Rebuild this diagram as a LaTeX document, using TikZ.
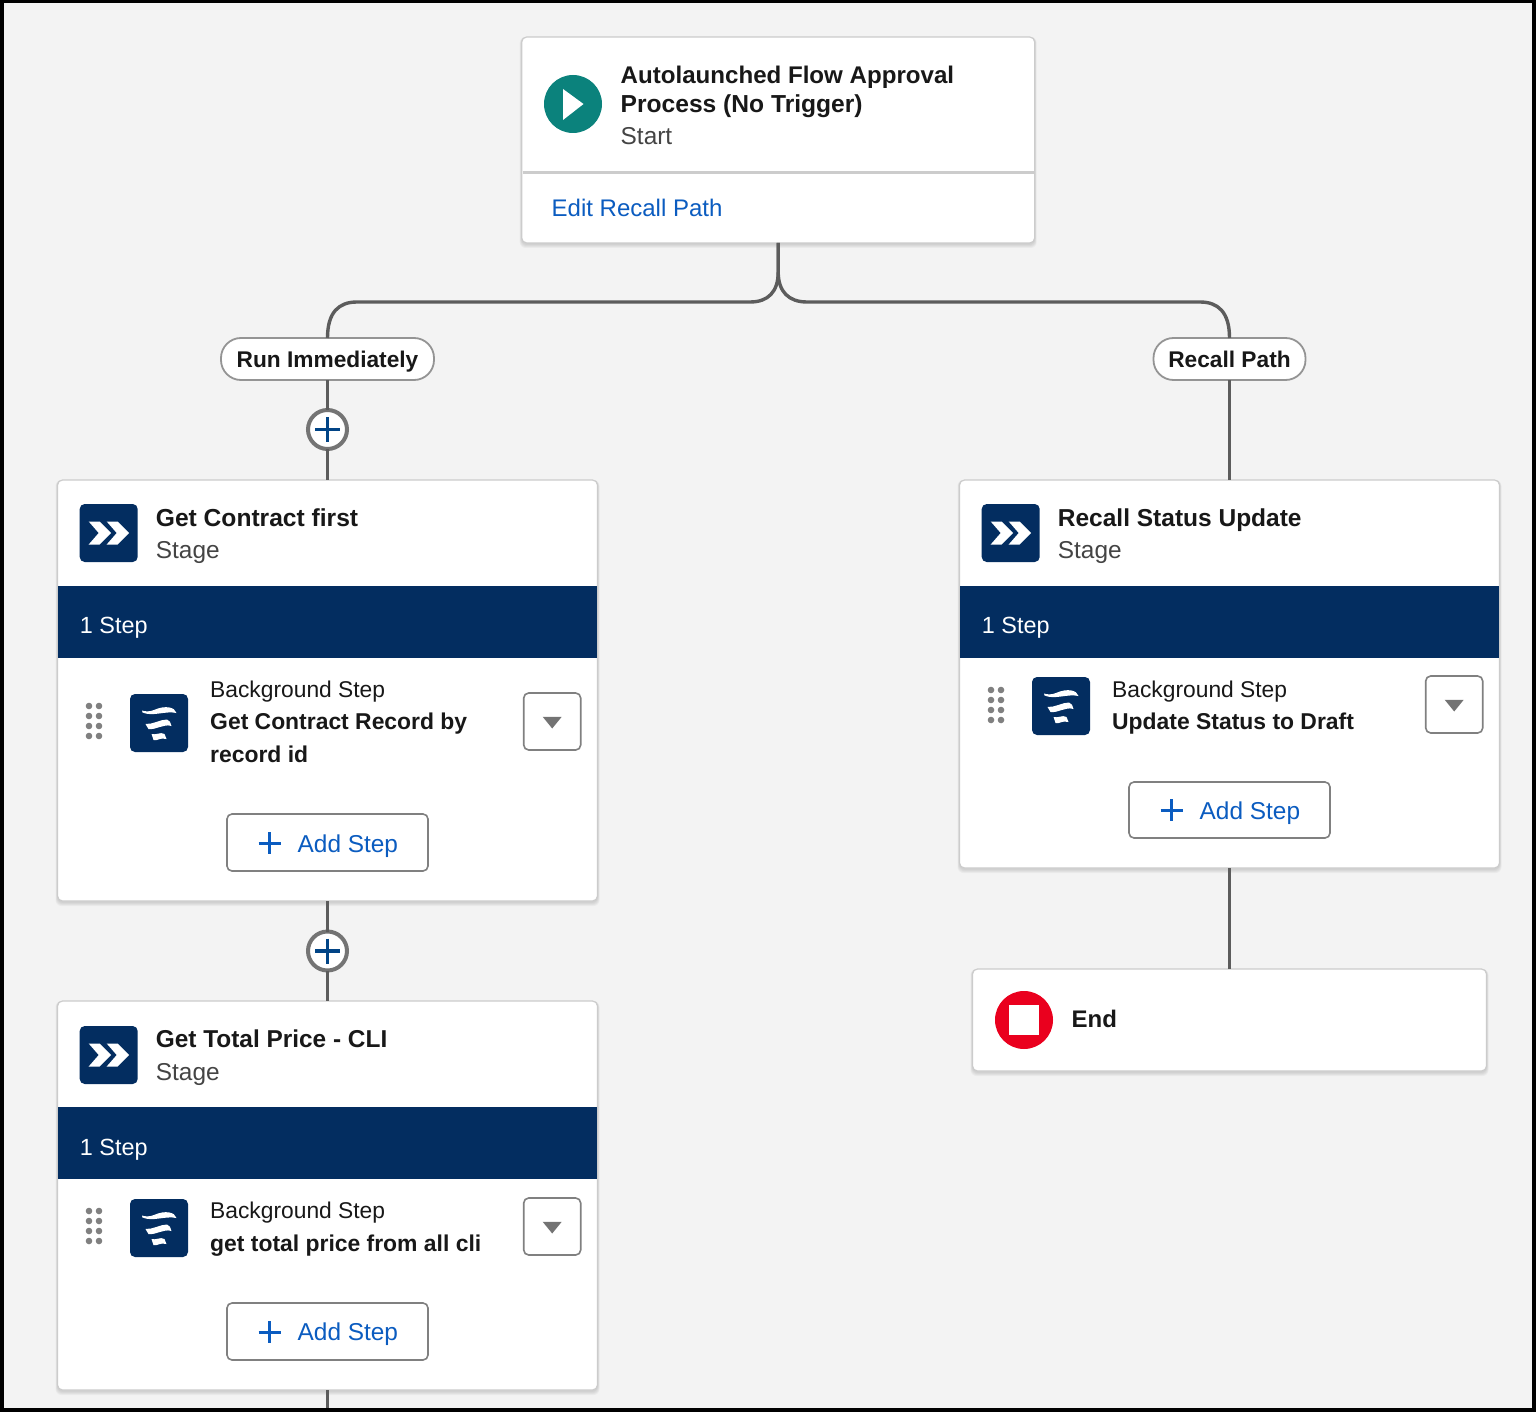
\documentclass[tikz,border=0pt]{standalone}
\usepackage{fontspec}
\setmainfont{Liberation Sans}
\usetikzlibrary{backgrounds}

\definecolor{navy}{HTML}{032D60}
\definecolor{linkblue}{HTML}{0B5CC0}
\definecolor{plusblue}{HTML}{014486}
\definecolor{teal}{HTML}{0B827C}
\definecolor{stopred}{HTML}{EA001E}
\definecolor{canvas}{HTML}{F3F3F3}
\definecolor{inkdark}{HTML}{181818}
\definecolor{inkgray}{HTML}{444444}
\definecolor{wire}{HTML}{5C5C5C}

\tikzset{
	card/.style={draw=black!20, line width=1.2pt, fill=white, rounded corners=5pt, anchor=north west, inner sep=0pt, outer sep=0pt},
	band/.style={fill=navy, anchor=north west, inner sep=0pt, outer sep=0pt, minimum width=539.5pt, minimum height=72pt},
	pill/.style={draw=black!42, line width=1.8pt, fill=white, rounded corners=20pt, inner sep=0pt, outer sep=0pt, minimum height=42pt, text height=18pt, text depth=2pt, text=inkdark, font=\fontsize{22.7}{24}\selectfont\bfseries},
	addnode/.style={circle, draw=wire!85, line width=4pt, fill=white, minimum size=39pt, inner sep=0pt, outer sep=0pt},
	btn/.style={draw=black!50, line width=1.6pt, fill=white, rounded corners=5pt, anchor=north west, inner sep=0pt, outer sep=0pt},
	title/.style={anchor=base west, inner sep=0pt, text=inkdark, font=\fontsize{24.6}{25}\selectfont\bfseries},
	subtitle/.style={anchor=base west, inner sep=0pt, text=inkgray, font=\fontsize{24.4}{25}\selectfont},
	steptitle/.style={anchor=base west, inner sep=0pt, text=inkdark, font=\fontsize{22.9}{24}\selectfont\bfseries},
	steplabel/.style={anchor=base west, inner sep=0pt, text=inkdark, font=\fontsize{22.8}{24}\selectfont},
	linktext/.style={anchor=base west, inner sep=0pt, text=linkblue, font=\fontsize{24}{25}\selectfont},
	addtext/.style={anchor=base west, inner sep=0pt, text=linkblue, font=\fontsize{24.4}{25}\selectfont},
	bandtext/.style={anchor=base west, inner sep=0pt, text=white, font=\fontsize{23.4}{25}\selectfont},
	link/.style={draw=wire, line width=3.4pt},
	stageicon/.pic={
		\fill[navy, rounded corners=5pt] (-29,-29) rectangle (29,29);
		\foreach \s in {-18,0}
			\fill[white] (\s-2,-11.5) -- (\s+9,-11.5) -- (\s+20.5,0) -- (\s+9,11.5) -- (\s-2,11.5) -- (\s+8,0) -- cycle;
	},
	stepicon/.pic={
		\fill[navy, rounded corners=5pt] (-29,-29) rectangle (29,29);
		\fill[white] (-16.5,-10.5) .. controls (-6,-6) and (6,-12.5) .. (17.5,-10) .. controls (16,-16) and (6,-18) .. (-5,-13) .. controls (-10,-11) and (-14,-11.5) .. (-17,-12.5) -- cycle;
		\fill[white] (-13.5,1) .. controls (-6,1.5) and (1,-3.5) .. (8,-3.5) .. controls (10.5,-3) and (12,0) .. (12.5,3) .. controls (4,0.5) and (-2,7) .. (-10.5,6) -- cycle;
		\fill[white] (-7.5,11) .. controls (-2.5,12.5) and (1,8.5) .. (5.5,11) -- (7.5,16) .. controls (1,14) and (-2,18.5) .. (-5.5,17) -- cycle;
	},
	dragdots/.pic={
		\foreach \dx in {-5,5}
			\foreach \dy in {-15,-5,5,15}
				\fill[black!50] (\dx,\dy) circle (3.3);
	},
	caret/.pic={
		\fill[black!55] (-9.5,-4.7) -- (9.5,-4.7) -- (0,7) -- cycle;
	},
	plusmark/.pic={
		\draw[linkblue, line width=3pt] (-11,0) -- (11,0) (0,-11) -- (0,11);
	},
	addplus/.pic={
		\draw[plusblue, line width=3.4pt] (-12.5,0) -- (12.5,0) (0,-12.5) -- (0,12.5);
	}
}

\begin{document}
\begin{tikzpicture}[x=1pt, y=-1pt]
	% Frame and canvas
	\begin{scope}[on background layer]
		\fill[black] (0,0) rectangle (1536,1412);
		\fill[canvas] (4,3) rectangle (1532,1408);
	\end{scope}
	\useasboundingbox (0,0) rectangle (1536,1412);

	% Cards
	\node[card, minimum width=513pt, minimum height=206pt] (start) at (521.7,37) {};
	\node[card, minimum width=540pt, minimum height=421pt] (contract) at (57.5,480) {};
	\node[card, minimum width=540pt, minimum height=389pt] (price) at (57.5,1001) {};
	\node[card, minimum width=540pt, minimum height=388pt] (recall) at (959.5,480) {};
	\node[card, minimum width=514pt, minimum height=102pt] (end) at (972.5,969) {};

	% Soft shadows under the cards
	\begin{scope}[on background layer]
		\foreach \c in {start,contract,price,recall,end}
			\foreach \g in {4,3,2,1}
				\fill[black, opacity=.035, rounded corners=6pt] ([shift={(-\g/2,0)}]\c.north west) rectangle ([shift={(\g/2,\g+1)}]\c.south east);
	\end{scope}

	% Path labels and add buttons
	\node[pill, minimum width=213pt] (run) at (327.5,359) {Run Immediately};
	\node[pill, minimum width=152pt] (recallpath) at (1229.5,359) {Recall Path};
	\node[addnode] (addone) at (327.5,429.5) {};
	\node[addnode] (addtwo) at (327.5,951) {};
	\coordinate (pagebottom) at (327.5,1408);

	% Connectors
	\draw[link] (start.south) -- (778.2,272) .. controls (778.2,292) and (768,302) .. (750,302) -- (357,302) .. controls (339,302) and (327.5,312) .. (run.north);
	\draw[link] (start.south) -- (778.2,272) .. controls (778.2,292) and (789,302) .. (807,302) -- (1200,302) .. controls (1218,302) and (1229.5,312) .. (recallpath.north);
	\draw[link] (run.south) -- (addone.north);
	\draw[link] (addone.south) -- (contract.north);
	\draw[link] (contract.south) -- (addtwo.north);
	\draw[link] (addtwo.south) -- (price.north);
	\draw[link] (price.south) -- (pagebottom);
	\draw[link] (recallpath.south) -- (recall.north);
	\draw[link] (recall.south) -- (end.north);
	\pic at (addone.center) {addplus};
	\pic at (addtwo.center) {addplus};

	% Start card
	\fill[teal] (573,104) circle (29);
	\fill[white] (563,89) -- (583.5,104) -- (563,120) -- cycle;
	\node[title, font=\fontsize{24.1}{25}\selectfont\bfseries] (starttitlea) at (620.5,84) {Autolaunched Flow Approval};
	\node[title] (starttitleb) at (620.5,113) {Process (No Trigger)};
	\node[subtitle] (startsub) at (620.5,145) {Start};
	\draw[black!20, line width=3pt] (522.5,173) -- (1034.5,173);
	\node[linktext] (editrecall) at (551.5,217) {Edit Recall Path};

	% Get Contract first
	\pic at (108.7,533) {stageicon};
	\node[title] (contracttitle) at (155.7,526) {Get Contract first};
	\node[subtitle] (contractsub) at (155.7,558) {Stage};
	\node[band] (contractband) at (57.8,585.5) {};
	\node[bandtext] (contractsteps) at (79.7,633) {1 Step};
	\pic at (94,721) {dragdots};
	\pic at (159,723) {stepicon};
	\node[steplabel] (contractkind) at (210,697) {Background Step};
	\node[steptitle] (contractstepa) at (210,729) {Get Contract Record by};
	\node[steptitle] (contractstepb) at (210,762) {record id};
	\node[btn, minimum width=57pt, minimum height=57pt] (contractdrop) at (523.7,693) {};
	\pic at (contractdrop.center) {caret};
	\node[btn, minimum width=201pt, minimum height=57pt] (contractadd) at (227,814) {};
	\pic at (269.5,843) {plusmark};
	\node[addtext] (contractaddtext) at (297.5,852) {Add Step};

	% Get Total Price - CLI
	\pic at (108.7,1055) {stageicon};
	\node[title, font=\fontsize{24.4}{25}\selectfont\bfseries] (pricetitle) at (155.7,1047) {Get Total Price - CLI};
	\node[subtitle] (pricesub) at (155.7,1080) {Stage};
	\node[band] (priceband) at (57.8,1107) {};
	\node[bandtext] (pricesteps) at (79.7,1155) {1 Step};
	\pic at (94,1226) {dragdots};
	\pic at (159,1228) {stepicon};
	\node[steplabel] (pricekind) at (210,1218) {Background Step};
	\node[steptitle] (pricestep) at (210,1251) {get total price from all cli};
	\node[btn, minimum width=57pt, minimum height=57pt] (pricedrop) at (523.7,1198) {};
	\pic at (pricedrop.center) {caret};
	\node[btn, minimum width=201pt, minimum height=57pt] (priceadd) at (227,1303) {};
	\pic at (269.5,1332) {plusmark};
	\node[addtext] (priceaddtext) at (297.5,1340) {Add Step};

	% Recall Status Update
	\pic at (1010.7,533) {stageicon};
	\node[title, font=\fontsize{24.5}{25}\selectfont\bfseries] (recalltitle) at (1057.7,526) {Recall Status Update};
	\node[subtitle] (recallsub) at (1057.7,558) {Stage};
	\node[band] (recallband) at (959.8,585.5) {};
	\node[bandtext] (recallsteps) at (981.7,633) {1 Step};
	\pic at (996,705) {dragdots};
	\pic at (1061,706) {stepicon};
	\node[steplabel] (recallkind) at (1112,697) {Background Step};
	\node[steptitle] (recallstep) at (1112,729) {Update Status to Draft};
	\node[btn, minimum width=57pt, minimum height=57pt] (recalldrop) at (1425.7,676) {};
	\pic at (recalldrop.center) {caret};
	\node[btn, minimum width=201pt, minimum height=56pt] (recalladd) at (1129,782) {};
	\pic at (1171.5,810) {plusmark};
	\node[addtext] (recalladdtext) at (1199.5,819) {Add Step};

	% End card
	\fill[stopred] (1024,1020) circle (29);
	\fill[white] (1008.5,1004.5) rectangle (1039,1035);
	\node[title, font=\fontsize{24}{25}\selectfont\bfseries] (endtitle) at (1071.5,1027) {End};
\end{tikzpicture}
\end{document}
